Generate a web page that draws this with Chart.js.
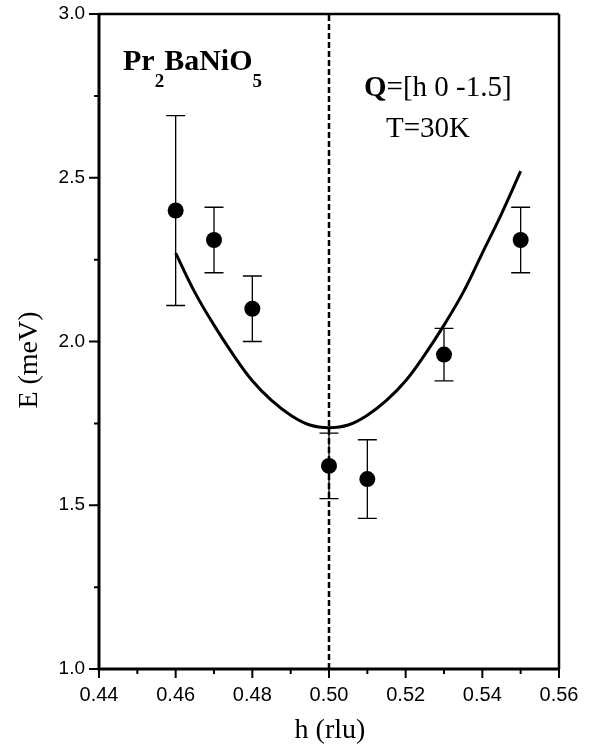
<!DOCTYPE html>
<html>
<head>
<meta charset="utf-8">
<script src="https://cdn.jsdelivr.net/npm/chart.js@4.4.1/dist/chart.umd.min.js"></script>
<style>
  body { margin: 0; background: #fff; }
  canvas { display: block; }
</style>
</head>
<body>
<canvas id="myChart" width="589" height="748"></canvas>
<script>
// measured points with error bars
const hVals   = [0.46, 0.47, 0.48, 0.50, 0.51, 0.53, 0.55];
const eVals   = [2.40, 2.31, 2.10, 1.62, 1.58, 1.96, 2.31];
const eErr    = [0.29, 0.10, 0.10, 0.10, 0.12, 0.08, 0.10];

// calculated dispersion curve
const curveH  = [0.460, 0.465, 0.470, 0.475, 0.480, 0.485, 0.490, 0.495, 0.500, 0.505,
                 0.510, 0.515, 0.520, 0.525, 0.530, 0.535, 0.540, 0.545, 0.550];
const curveE  = [2.27, 2.15, 2.05, 1.96, 1.88, 1.82, 1.775, 1.745, 1.737, 1.745,
                 1.775, 1.82, 1.88, 1.96, 2.05, 2.15, 2.27, 2.39, 2.52];

// dashed marker at the zone boundary
const zoneH   = [0.50, 0.50];
const zoneE   = [1.0, 3.0];

const xTicks  = [0.44, 0.46, 0.48, 0.50, 0.52, 0.54, 0.56];
const yTicks  = [1.0, 1.5, 2.0, 2.5, 3.0];

const toXY = (xs, ys) => xs.map((x, i) => ({ x: x, y: ys[i] }));

// frame, minor ticks, error bars, labels
const extras = {
    id: 'extras',
    afterDatasetsDraw(chart) {
        const ctx = chart.ctx;
        const a = chart.chartArea;
        const xs = chart.scales.x, ys = chart.scales.y;
        ctx.save();
        ctx.strokeStyle = '#000';

        // error bars
        ctx.lineWidth = 1.3;
        hVals.forEach((h, i) => {
            let px = xs.getPixelForValue(h);
            let top = ys.getPixelForValue(eVals[i] + eErr[i]);
            let bot = ys.getPixelForValue(eVals[i] - eErr[i]);
            ctx.beginPath();
            ctx.moveTo(px, top); ctx.lineTo(px, bot);
            ctx.moveTo(px - 9.5, top); ctx.lineTo(px + 9.5, top);
            ctx.moveTo(px - 9.5, bot); ctx.lineTo(px + 9.5, bot);
            ctx.stroke();
        });

        // frame
        ctx.lineWidth = 2.5;
        ctx.beginPath();
        ctx.moveTo(a.left, a.top); ctx.lineTo(a.right, a.top);
        ctx.moveTo(a.right, a.top); ctx.lineTo(a.right, a.bottom);
        ctx.stroke();
        ctx.lineWidth = 3;
        ctx.beginPath();
        ctx.moveTo(a.left, a.top - 1); ctx.lineTo(a.left, a.bottom);
        ctx.lineTo(a.right + 1, a.bottom);
        ctx.stroke();

        // tick marks, major and minor
        ctx.lineWidth = 2;
        ctx.beginPath();
        xTicks.forEach((t, i) => {
            let px = xs.getPixelForValue(t);
            ctx.moveTo(px, a.bottom); ctx.lineTo(px, a.bottom + 9);
            if (i < xTicks.length - 1) {
                let mx = xs.getPixelForValue((t + xTicks[i + 1]) / 2);
                ctx.moveTo(mx, a.bottom); ctx.lineTo(mx, a.bottom + 5);
            }
        });
        yTicks.forEach((t, i) => {
            let py = ys.getPixelForValue(t);
            ctx.moveTo(a.left, py); ctx.lineTo(a.left - 10, py);
            if (i < yTicks.length - 1) {
                let my = ys.getPixelForValue((t + yTicks[i + 1]) / 2);
                ctx.moveTo(a.left, my); ctx.lineTo(a.left - 5, my);
            }
        });
        ctx.stroke();

        // axis titles
        ctx.fillStyle = '#000';
        ctx.font = '28px "Liberation Serif"';
        ctx.textAlign = 'center';
        ctx.textBaseline = 'middle';
        ctx.fillText('h (rlu)', 330, 731);
        ctx.save();
        ctx.translate(30, 360);
        ctx.rotate(-Math.PI / 2);
        ctx.fillText('E (meV)', 0, 0);
        ctx.restore();

        // annotations
        ctx.textAlign = 'left';
        ctx.textBaseline = 'alphabetic';
        let x = 123;
        const big = 'bold 30px "Liberation Serif"', sub = 'bold 19px "Liberation Serif"';
        [['Pr', big, 70], ['2', sub, 87], ['BaNiO', big, 70], ['5', sub, 87]].forEach(p => {
            ctx.font = p[1];
            ctx.fillText(p[0], x, p[2]);
            x += ctx.measureText(p[0]).width;
        });
        ctx.font = 'bold 29px "Liberation Serif"';
        ctx.fillText('Q', 364, 96);
        let qw = ctx.measureText('Q').width;
        ctx.font = '29px "Liberation Serif"';
        ctx.fillText('=[h 0 -1.5]', 364 + qw, 96);
        ctx.fillText('T=30K', 386, 137);
        ctx.restore();
    }
};

const ctx = document.getElementById('myChart').getContext('2d');
const myChart = new Chart(ctx, {
    type: 'scatter',
    data: {
        datasets: [
            {
                label: 'zone',
                data: toXY(zoneH, zoneE),
                showLine: true,
                borderColor: '#000',
                borderWidth: 2.5,
                borderDash: [6, 3],
                pointRadius: 0
            },
            {
                label: 'calc',
                data: toXY(curveH, curveE),
                showLine: true,
                borderColor: '#000',
                borderWidth: 3,
                tension: 0.4,
                pointRadius: 0
            },
            {
                label: 'data',
                data: toXY(hVals, eVals),
                showLine: false,
                pointRadius: 8,
                pointBackgroundColor: '#000',
                pointBorderColor: '#000',
                pointBorderWidth: 0
            }
        ]
    },
    options: {
        responsive: false,
        animation: false,
        layout: { padding: { left: 0, right: 30, top: 14, bottom: 0 } },
        plugins: { legend: { display: false }, tooltip: { enabled: false } },
        scales: {
            x: {
                type: 'linear',
                min: 0.44,
                max: 0.56,
                grid: { display: false, drawTicks: false },
                border: { display: false },
                afterFit: scale => {
                    scale.height = 79;
                    scale.paddingLeft = 0;
                    scale.paddingRight = 0;
                },
                afterBuildTicks: scale => { scale.ticks = xTicks.map(v => ({ value: v })); },
                ticks: {
                    padding: 14,
                    color: '#000',
                    font: { family: '"Liberation Sans"', size: 20 },
                    callback: v => v.toFixed(2)
                }
            },
            y: {
                type: 'linear',
                min: 1.0,
                max: 3.0,
                grid: { display: false, drawTicks: false },
                border: { display: false },
                afterFit: scale => {
                    scale.width = 99;
                    scale.paddingTop = 0;
                    scale.paddingBottom = 0;
                },
                afterBuildTicks: scale => { scale.ticks = yTicks.map(v => ({ value: v })); },
                ticks: {
                    padding: 14,
                    color: '#000',
                    font: { family: '"Liberation Sans"', size: 19 },
                    callback: v => v.toFixed(1)
                }
            }
        }
    },
    plugins: [extras]
});
</script>
</body>
</html>
